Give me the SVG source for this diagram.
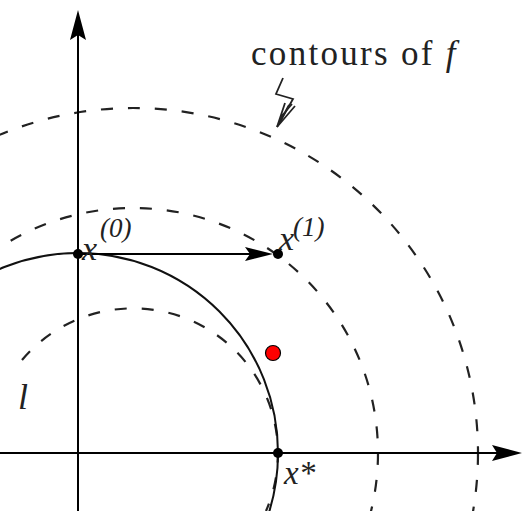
<svg xmlns="http://www.w3.org/2000/svg" width="526" height="511" viewBox="0 0 526 511">
  <style>
    .axis { stroke: #000; stroke-width: 2; fill: none; }
    .contour { stroke: #222; stroke-width: 2.2; fill: none; stroke-dasharray: 12 15; }
    .constraint { stroke: #111; stroke-width: 2; fill: none; }
    .pt { fill: #000; }
    .lbl { font-family: "Liberation Serif", "Times New Roman", serif; fill: #222; }
    .it { font-style: italic; }
  </style>
  <defs>
    <marker id="axhead" viewBox="0 0 30 16" refX="20" refY="8" markerWidth="30" markerHeight="16" markerUnits="userSpaceOnUse" orient="auto">
      <path d="M0,0 L30,8 L0,16 L5,8 z" fill="#000"/>
    </marker>
    <marker id="stephead" viewBox="0 0 28 14" refX="18" refY="7" markerWidth="28" markerHeight="14" markerUnits="userSpaceOnUse" orient="auto">
      <path d="M0,0 L28,7 L0,14 L5,7 z" fill="#000"/>
    </marker>
  </defs>
  <rect width="526" height="511" fill="#fff"/>

  <g id="contours">
    <path class="contour" d="M22,360 A145,145 0 0 1 266,511"/>
    <circle class="contour" cx="133" cy="453" r="245"/>
    <circle class="contour" cx="133" cy="453" r="345"/>
  </g>

  <g id="constraint">
    <circle class="constraint" cx="78" cy="453" r="200"/>
  </g>

  <g id="axes">
    <line class="axis" x1="78" y1="511" x2="78" y2="20" marker-end="url(#axhead)"/>
    <line class="axis" x1="0" y1="453" x2="512" y2="453" marker-end="url(#axhead)"/>
  </g>

  <g id="connectors">
    <line class="axis" x1="78" y1="254" x2="263" y2="254" marker-end="url(#stephead)"/>
    <g id="contour-pointer" stroke="#222" stroke-width="1.8" fill="none" stroke-linejoin="miter">
      <path d="M283,78 L276,94 L293,99 L277,127"/>
      <path d="M277,127 L285,103 M277,127 L295,106 M277,127 L289,105 M280,118 L292,104"/>
    </g>
  </g>

  <g id="node-x0">
    <circle class="pt" cx="78" cy="254" r="5"/>
    <text class="lbl it" x="82" y="260" font-size="34">x</text>
    <text class="lbl it" x="100" y="237" font-size="27">(0)</text>
  </g>

  <g id="node-x1">
    <circle class="pt" cx="278" cy="254" r="5"/>
    <text class="lbl it" x="279" y="250" font-size="34">x</text>
    <text class="lbl it" x="293" y="236" font-size="27">(1)</text>
  </g>

  <g id="node-xstar">
    <circle class="pt" cx="278" cy="453" r="5"/>
    <text class="lbl it" x="284" y="484" font-size="33">x*</text>
  </g>

  <g id="node-red">
    <circle cx="273" cy="353" r="7.5" fill="#ff0000" stroke="#000" stroke-width="1.2"/>
  </g>

  <g id="label-contours">
    <text class="lbl" x="251" y="65" font-size="35" letter-spacing="2.3">contours of <tspan class="it">f</tspan></text>
  </g>

  <g id="label-l">
    <text class="lbl it" x="18" y="409" font-size="36">l</text>
  </g>
</svg>
